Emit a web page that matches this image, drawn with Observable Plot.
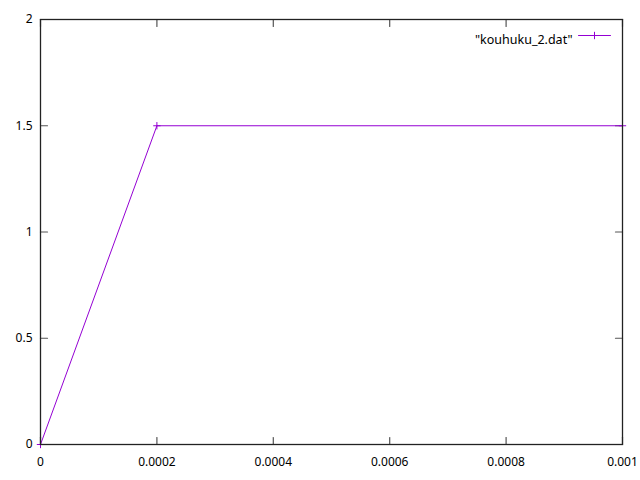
<!DOCTYPE html>
<html>
<head>
<meta charset="utf-8">
<script src="https://cdn.jsdelivr.net/npm/d3@7"></script>
<script src="https://cdn.jsdelivr.net/npm/@observablehq/plot@0.6"></script>
<style>
  html, body { margin: 0; padding: 0; background: #fff; }
  #chart svg { display: block; }
</style>
</head>
<body>
<div id="chart"></div>
<script>
const xValues = [0, 0.0002, 0.001];
const yValues = [0, 1.5, 1.5];
const seriesName = '"kouhuku_2.dat"';
const xTicks = [0, 0.0002, 0.0004, 0.0006, 0.0008, 0.001];
const xTickLabels = ["0", "0.0002", "0.0004", "0.0006", "0.0008", "0.001"];
const yTicks = [0, 0.5, 1, 1.5, 2];
const yTickLabels = ["0", "0.5", "1", "1.5", "2"];

const data = xValues.map((x, i) => ({x, y: yValues[i]}));
const color = "#9400d3";
const tickLen = 7;
const tickShape = {draw(ctx, l) { ctx.moveTo(0, 0); ctx.lineTo(0, -l); }};

const chart = Plot.plot({
  width: 640,
  height: 480,
  marginLeft: 40,
  marginRight: 18,
  marginTop: 19,
  marginBottom: 36,
  style: {fontFamily: "'Noto Sans', sans-serif", fontSize: "12px", color: "#000", background: "#fff"},
  x: {domain: [0, 0.001], label: null},
  y: {domain: [0, 2], label: null},
  marks: [
    Plot.axisX({ticks: xTicks, tickFormat: (d, i) => xTickLabels[i], tickSize: 0, tickPadding: 13, fill: "#000", label: null}),
    Plot.axisY({ticks: yTicks, tickFormat: (d, i) => yTickLabels[i], tickSize: 0, tickPadding: 8, fill: "#000", label: null}),
    Plot.vector(xTicks, {x: d => d, frameAnchor: "bottom", length: tickLen, rotate: 0, anchor: "start", shape: tickShape, stroke: "#555", strokeWidth: 1.2}),
    Plot.vector(xTicks, {x: d => d, frameAnchor: "top", length: tickLen, rotate: 180, anchor: "start", shape: tickShape, stroke: "#555", strokeWidth: 1.2}),
    Plot.vector(yTicks, {y: d => d, frameAnchor: "left", length: tickLen, rotate: 90, anchor: "start", shape: tickShape, stroke: "#555", strokeWidth: 1.2}),
    Plot.vector(yTicks, {y: d => d, frameAnchor: "right", length: tickLen, rotate: -90, anchor: "start", shape: tickShape, stroke: "#555", strokeWidth: 1.2}),
    Plot.line(data, {x: "x", y: "y", stroke: color, strokeWidth: 1}),
    Plot.dot(data, {x: "x", y: "y", symbol: "plus", r: 2.5, stroke: color, strokeWidth: 1}),
    Plot.frame({stroke: "#222", strokeWidth: 1.3}),
    Plot.text([seriesName], {frameAnchor: "top-right", dx: -50, dy: 16, textAnchor: "end", fill: "#000", fontSize: 12.5}),
    Plot.vector([seriesName], {frameAnchor: "top-right", dx: -12, dy: 16, length: 32, rotate: -90, anchor: "start", shape: tickShape, stroke: color, strokeWidth: 1}),
    Plot.dot([seriesName], {frameAnchor: "top-right", dx: -28, dy: 16, symbol: "plus", r: 2.5, stroke: color, strokeWidth: 1})
  ]
});
document.getElementById("chart").appendChild(chart);
</script>
</body>
</html>
